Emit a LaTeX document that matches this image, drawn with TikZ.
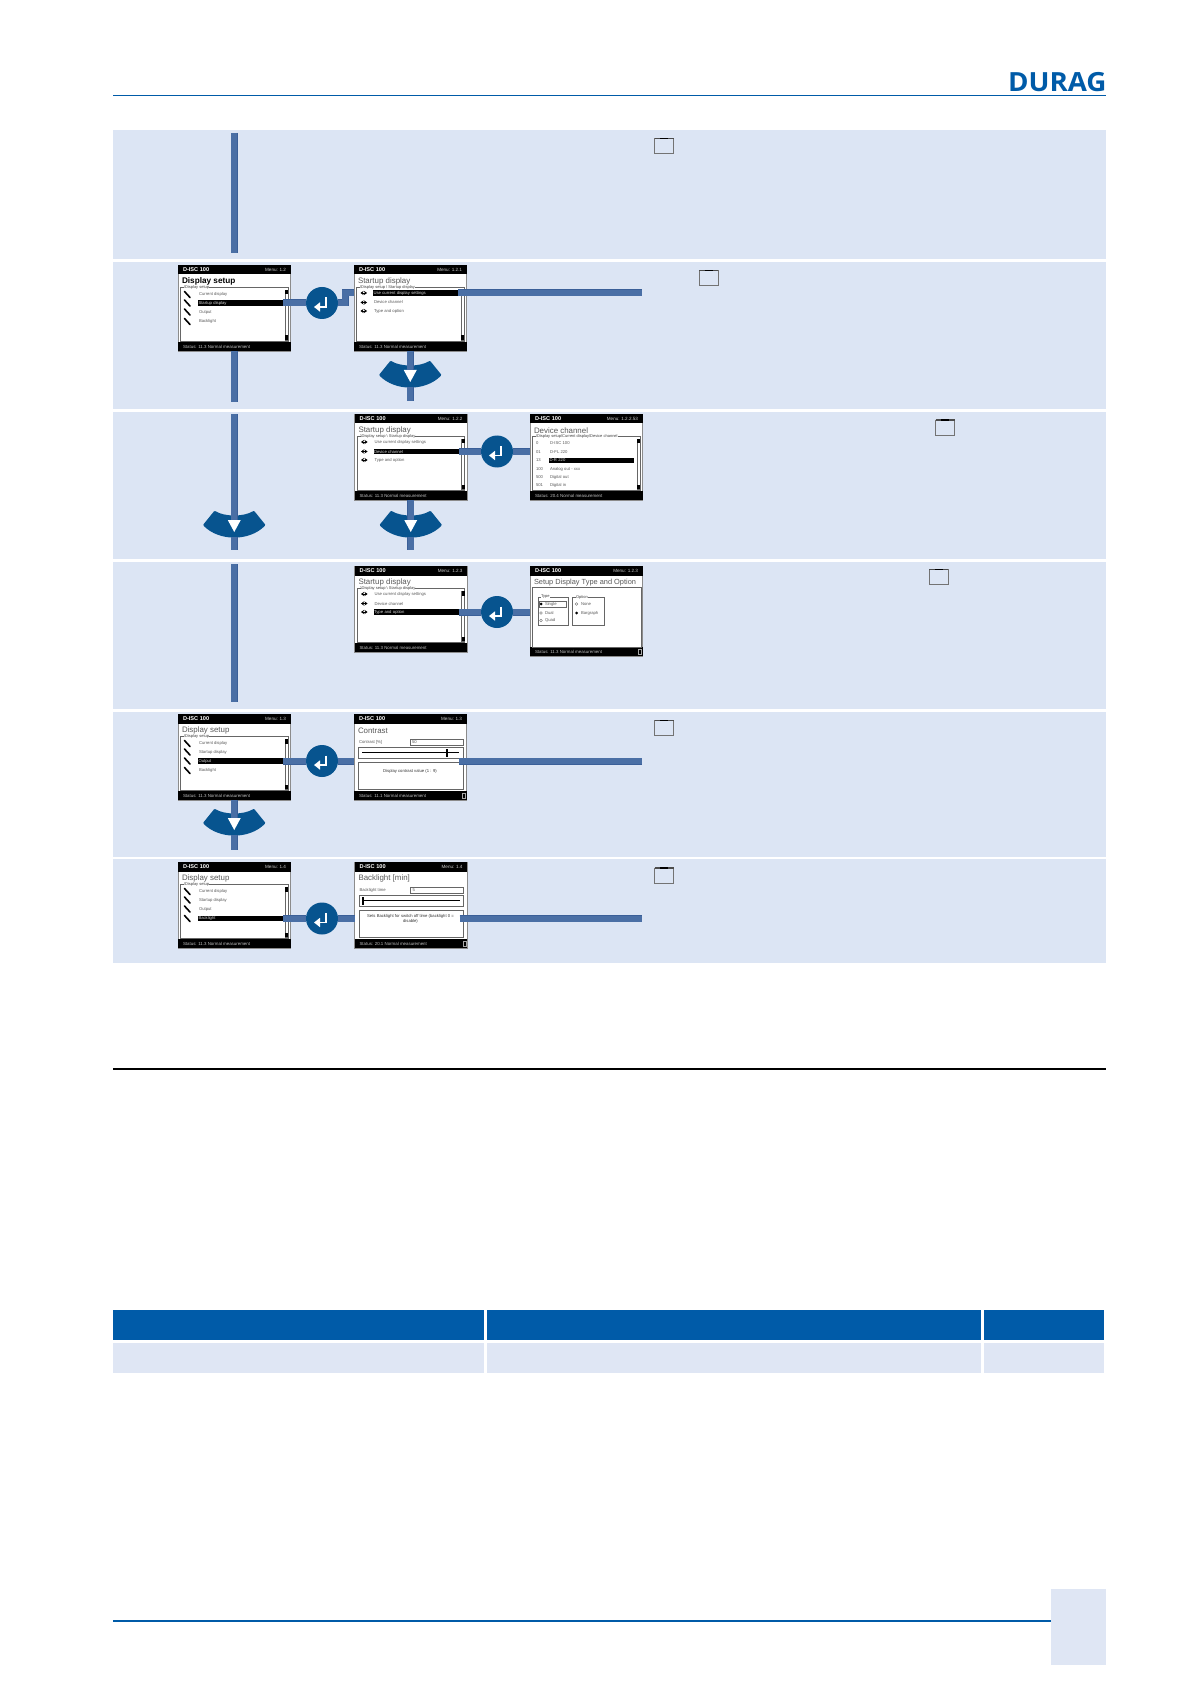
\documentclass[tikz,border=0pt]{standalone}
\usepackage{fontspec}
\setmainfont{Liberation Sans}
\newfontfamily\logofont[FakeStretch=1.05]{Open Sans}
\usepackage{xcolor}
\usetikzlibrary{arrows.meta}

\definecolor{bandblue}{HTML}{DCE5F4}
\definecolor{rowblue}{HTML}{DFE6F4}
\definecolor{duragblue}{HTML}{005BA8}
\definecolor{padblue}{HTML}{07548F}
\definecolor{barfill}{HTML}{4A6FA5}
\definecolor{barline}{HTML}{3A5F98}

\newcommand{\fs}[1]{\fontsize{#1}{#1}\selectfont}

% one instrument screen: [height]{name}{x}{y}{menu}{title}{status}{content}
\newcommand{\dscreen}[8][86]{%
  \begin{scope}[shift={(#3,#4)}]
    \def\scr{#2}
    \node[screen, minimum height={#1*0.5pt}] (#2) at (0,0) {};
    \fill[black] (0,0) rectangle (112.5,9.5);
    \fill[black] (0,#1-9) rectangle (112.5,#1);
    \node[scrhead] (#2-name) at (5,5) {D-ISC 100};
    \node[scrmenu] (#2-menu) at (108,5) {Menu: #5};
    \node[scrtitle] (#2-title) at (4,16.5) {#6};
    \node[scrstat] (#2-stat) at (5,#1-4.5) {Status: #7 Normal measurement};
    #8
  \end{scope}
}
\newcommand{\listbox}[1]{%
  \draw[boxline] (2.5,22) rectangle (110,76);
  \node[scrlegend] (\scr-legend) at (6,22) {#1};
  \draw[boxline] (107,25) rectangle (110,75);
  \fill[black] (107,25) rectangle (110,29.5);
  \fill[black] (107,70.5) rectangle (110,75);
}
\newcommand{\setuprows}[1]{%
  \foreach \i/\ry/\rt in {1/29.5/Current display, 2/38/Startup display, 3/47/Output, 4/56.5/Backlight}{
    \draw[wrench] (6.5,\ry-3) -- (12,\ry+3);
    \ifnum\i=#1
      \node[selrow] (\scr-sel) at (20,\ry) {\rt};
    \else
      \node[rowtext] (\scr-r\i) at (21,\ry) {\rt};
    \fi
  }
}
\newcommand{\startuprows}[1]{%
  \foreach \i/\ry/\rt in {1/28/Use current display settings, 2/37.5/Device channel, 3/46/Type and option}{
    \draw[twoway] (6.5,\ry) -- (13,\ry);
    \ifnum\i=#1
      \node[selrow] (\scr-sel) at (19,\ry) {\rt};
    \else
      \node[rowtext] (\scr-r\i) at (20,\ry) {\rt};
    \fi
  }
}
% slider screens: value label, value, handle position, message lines
\newcommand{\sliderbox}[4]{%
  \node[rowtext] (\scr-lab) at (5,28) {#1};
  \draw[boxline] (56,25) rectangle (109,31);
  \node[rowtext] (\scr-val) at (58,28) {#2};
  \draw[boxline] (4.5,33) rectangle (109,44);
  \draw[black, line width=.6pt] (8,38.5) -- (105,38.5);
  \fill[black] (#3-1,34.5) rectangle (#3+1,43);
  \draw[boxline] (4.5,48) rectangle (109,75);
  \node[msgtext] (\scr-msg) at (56,57) {#4};
  \draw[footbox] (108.5,79) rectangle (111.5,84.5);
}
\newcommand{\enterkey}[3]{%
  \begin{scope}[shift={(#2,#3)}]
    \node[enterbtn] (#1) at (0,0) {};
    \draw[white, line width=.9pt, -{Triangle[length=3pt,width=4.5pt]}]
      (4,-5.5) -- (4,4) -- (-8,4);
  \end{scope}
}
\newcommand{\downpad}[3]{%
  \begin{scope}[shift={(#2,#3)}]
    \node[padnode] (#1) at (0,3.5) {};
    \filldraw[padblue, line width=1pt, line join=round]
      (-30,0) -- (-19.5,-13) .. controls (-10,-7) and (10,-7) .. (19.5,-13)
      -- (30,0) .. controls (15,15.5) and (-15,15.5) .. (-30,0) -- cycle;
    \fill[white] (-6.5,-5) -- (6.5,-5) -- (0,7) -- cycle;
  \end{scope}
}

\begin{document}
\begin{tikzpicture}[
  x=0.5pt, y=-0.5pt,
  every node/.style={inner sep=0pt, outer sep=0pt},
  band/.style={fill=bandblue},
  screen/.style={rectangle, anchor=north west, fill=white, draw=black!45, line width=0.25pt,
                 minimum width=56.25pt},
  scrhead/.style={anchor=west, text=white, font=\fs{2.8}\bfseries},
  scrmenu/.style={anchor=east, text=white!80!black, font=\fs{2.3}},
  scrtitle/.style={anchor=west, text=black!65, font=\fs{3.95}},
  scrstat/.style={anchor=west, text=white!75!black, font=\fs{2.2}},
  scrlegend/.style={anchor=west, fill=white, text=black!75, font=\fs{2}},
  rowtext/.style={anchor=west, text=black!65, font=\fs{2.1}},
  msgtext/.style={rowtext, anchor=center, align=center, text=black!80},
  selrow/.style={anchor=west, fill=black, text=white!85!black, font=\fs{2.1},
                 text width=42pt, inner xsep=.25pt, minimum height=2.75pt, align=left},
  boxline/.style={draw=black!60, line width=0.25pt},
  footbox/.style={draw=white!65!black, line width=.25pt},
  wrench/.style={black, line width=.8pt, line cap=round},
  twoway/.style={black, line width=.45pt, {Stealth[length=1.5pt,width=2pt]}-{Stealth[length=1.5pt,width=2pt]}},
  enterbtn/.style={circle, fill=padblue, minimum size=16pt},
  padnode/.style={rectangle, minimum width=30pt, minimum height=8.5pt},
  bar/.style={draw=barline, double=barfill, double distance=3pt, line width=.25pt},
  winicon/.style={rectangle, draw=black!55, line width=.4pt, minimum width=9.5pt, minimum height=7.5pt},
  thead/.style={fill=duragblue},
  tcell/.style={fill=rowblue},
]
\useasboundingbox (0,0) rectangle (1191,1684);

% --- page head
\draw[duragblue, line width=.5pt] (113,96) -- (1106,96);
\node[anchor=base east, text=duragblue, font=\logofont\fs{13.2}\bfseries] (logo) at (1106.5,92) {DURAG};

% --- the six shaded rows
\foreach \ya/\yb in {130/259, 262/409, 412/559, 562/709, 712/857, 859/963}{
  \fill[band] (113,\ya) rectangle (1106,\yb);
}

% --- screens
\dscreen{setupA}{178}{265}{1.2}{{\color{black}\fs{4.1}\bfseries Display setup}}{11.3}{\listbox{\textbackslash Display setup}\setuprows{2}}
\dscreen{startA}{354}{265}{1.2.1}{Startup display}{11.3}{\listbox{\textbackslash Display setup \textbackslash\ Startup display}\startuprows{1}}
\dscreen{startB}{354.5}{414}{1.2.2}{Startup display}{11.3}{\listbox{\textbackslash Display setup \textbackslash\ Startup display}\startuprows{2}}
\dscreen{channel}{530}{414}{1.2.2.53}{Device channel}{20.4}{%
  \listbox{\textbackslash Display setup\textbackslash Current display\textbackslash Device channel}
  \foreach \i/\ry/\rn/\rt in {1/29/0/D-ISC 100, 2/38/01/D-FL 220, 4/55/100/Analog out - xxx, 5/63/500/Digital out, 6/71/501/Digital in}{
    \node[rowtext] (channel-n\i) at (6,\ry) {\rn};
    \node[rowtext] (channel-t\i) at (20,\ry) {\rt};
  }
  \node[rowtext] (channel-n3) at (6,46.5) {13};
  \node[selrow] (channel-sel) at (19,46.5) {D-R 220};
}
\dscreen{startC}{354.5}{566}{1.2.3}{Startup display}{11.3}{\listbox{\textbackslash Display setup \textbackslash\ Startup display}\startuprows{3}}
\dscreen[90]{typeopt}{530}{566}{1.2.3}{{\fs{3.7}Setup Display Type and Option}}{11.3}{%
  \draw[boxline] (2.5,21) rectangle (111,81);
  \draw[boxline] (8,31) rectangle (38,59);
  \draw[boxline] (42,31) rectangle (74,59);
  \node[scrlegend] (typeopt-l1) at (11,31) {Type};
  \node[scrlegend] (typeopt-l2) at (46,31) {Option};
  \foreach \i/\ry/\rt in {1/38/Single, 2/47/Dual, 3/54.5/Quad}{
    \node[rowtext] (typeopt-t\i) at (15,\ry) {\rt};
  }
  \fill[black] (11,38) circle (1.5);
  \draw[black!60, line width=.2pt] (11,47) circle (1.3);
  \draw[black!60, line width=.2pt] (11,54.5) circle (1.3);
  \draw[boxline] (9,35) rectangle (36.5,41);
  \node[rowtext] (typeopt-o1) at (51,38) {None};
  \node[rowtext] (typeopt-o2) at (51,47) {Bargraph};
  \draw[black!60, line width=.2pt] (46.5,38) circle (1.3);
  \fill[black] (46.5,47) circle (1.5);
  \draw[footbox] (108.5,83) rectangle (111.5,88.5);
}
\dscreen{setupB}{178}{714}{1.3}{Display setup}{11.3}{\listbox{\textbackslash Display setup}\setuprows{3}}
\dscreen{contrast}{354}{714}{1.3}{Contrast}{11.1}{%
  \sliderbox{Contrast [\%]}{50}{93}{Display contrast value (1 : 9)}
  \coordinate (contrast-out) at (105,47);
}
\dscreen{setupC}{178}{862}{1.4}{Display setup}{11.3}{\listbox{\textbackslash Display setup}\setuprows{4}}
\dscreen{backlight}{354.5}{862}{1.4}{Backlight [min]}{20.1}{%
  \sliderbox{Backlight time}{5}{8}{Sets Backlight for switch off time (backlight 0 =\\disable)}
  \coordinate (backlight-out) at (105,56.5);
}

% --- enter keys
\enterkey{enterB}{322}{303}
\enterkey{enterC}{497}{451.5}
\enterkey{enterD}{497}{612}
\enterkey{enterE}{322}{761}
\enterkey{enterF}{322}{918.5}

% --- down keys
\downpad{padB}{410.25}{375}
\downpad{padC}{234.25}{525}
\downpad{padD}{410.75}{525}
\downpad{padE}{234.25}{823}

% --- free ends of the bars
\coordinate (topA) at (234.25,133);
\coordinate (endA) at (234.25,253);
\coordinate (endB) at (234.25,402);
\coordinate (stubB) at (410.25,401);
\coordinate (topC) at (234.25,414);
\coordinate (stubC) at (234.25,550);
\coordinate (stubD) at (410.75,550);
\coordinate (topD) at (234.25,564);
\coordinate (endD) at (234.25,702);
\coordinate (stubE) at (234.25,850);
\coordinate (kneeB) at (345,293);
\coordinate (outB) at (642,293);
\coordinate (outE) at (642,761);
\coordinate (outF) at (642,918.5);

% --- vertical bars
\draw[bar] (topA) -- (endA);
\draw[bar] (setupA.south) -- (endB);
\draw[bar] (topC) -- (padC.north);
\draw[bar] (padC.south) -- (stubC);
\draw[bar] (topD) -- (endD);
\draw[bar] (startA.south) -- (padB.north);
\draw[bar] (padB.south) -- (stubB);
\draw[bar] (startB.south) -- (padD.north);
\draw[bar] (padD.south) -- (stubD);
\draw[bar] (setupB.south) -- (padE.north);
\draw[bar] (padE.south) -- (stubE);

% --- horizontal bars
\draw[bar] (setupA-sel.east) -- (enterB);
\draw[bar] (enterB) -| (kneeB) -- (kneeB -| startA.west);
\draw[bar] (startA-sel.east) -- (outB);
\draw[bar] (startB-sel.east) -- (enterC);
\draw[bar] (enterC) -- (enterC -| channel.west);
\draw[bar] (startC-sel.east) -- (enterD);
\draw[bar] (enterD) -- (enterD -| typeopt.west);
\draw[bar] (setupB-sel.east) -- (enterE);
\draw[bar] (enterE) -- (enterE -| contrast.west);
\draw[bar] (contrast-out) -- (outE);
\draw[bar] (setupC-sel.east) -- (enterF);
\draw[bar] (enterF) -- (enterF -| backlight.west);
\draw[bar] (backlight-out) -- (outF);

% --- window symbols in the text column
\foreach \n/\wx/\wy in {winA/664/146, winB/708.5/278, winC/945/427.5, winD/938.5/577, winE/664/728, winF/664/875.5}{
  \node[winicon] (\n) at (\wx,\wy) {};
  \draw[black!70, line width=.6pt] (\n.north west) -- (\n.north east);
  \draw[black, line width=.6pt] (\wx-4,\wy-7.5) -- (\wx+4,\wy-7.5);
}

% --- rule and table
\draw[black, line width=.75pt] (113,1069) -- (1106,1069);
\foreach \xa/\xb in {113/484, 487/981, 984/1104}{
  \fill[thead] (\xa,1310) rectangle (\xb,1340);
  \fill[tcell] (\xa,1343) rectangle (\xb,1373);
}

% --- page foot
\draw[duragblue, line width=.75pt] (113,1621) -- (1051,1621);
\fill[tcell] (1051,1589) rectangle (1106,1665);
\end{tikzpicture}
\end{document}
